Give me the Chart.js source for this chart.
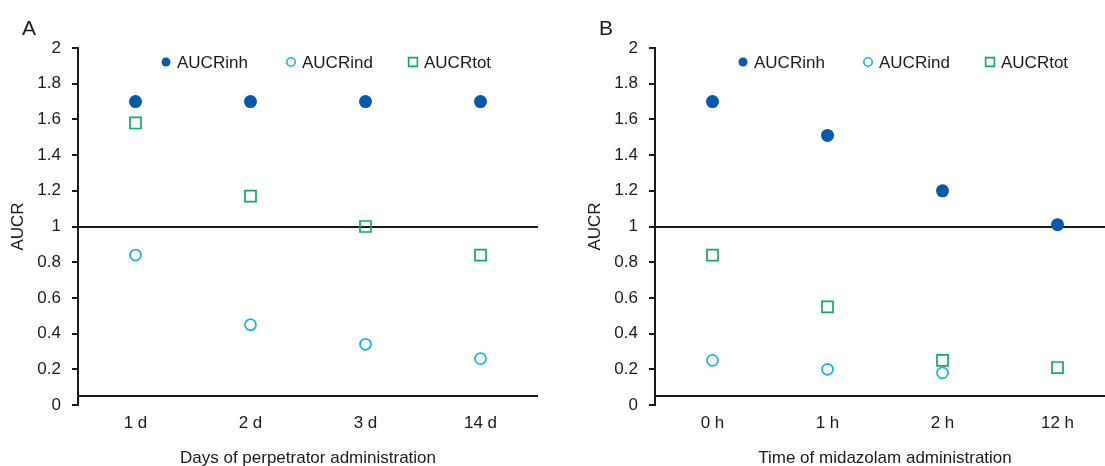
<!DOCTYPE html>
<html>
<head>
<meta charset="utf-8">
<script src="https://cdn.jsdelivr.net/npm/chart.js@4.4.1/dist/chart.umd.min.js"></script>
<style>
  html, body { margin: 0; padding: 0; background: #fff; overflow: hidden; width: 1105px; height: 466px; }
  .panel { position: absolute; top: 0; width: 560px; height: 466px; }
  #wa { left: 0; }
  #wb { left: 577px; }
</style>
</head>
<body>
<div class="panel" id="wa"><canvas id="ca" width="560" height="466"></canvas></div>
<div class="panel" id="wb"><canvas id="cb" width="560" height="466"></canvas></div>
<script>
// ---- data ----
const categoriesA = ['1 d', '2 d', '3 d', '14 d'];
const aucrInhA = [1.70, 1.70, 1.70, 1.70];
const aucrIndA = [0.84, 0.45, 0.34, 0.26];
const aucrTotA = [1.58, 1.17, 1.00, 0.84];

const categoriesB = ['0 h', '1 h', '2 h', '12 h'];
const aucrInhB = [1.70, 1.51, 1.20, 1.01];
const aucrIndB = [0.25, 0.20, 0.18, null];
const aucrTotB = [0.84, 0.55, 0.25, 0.21];

const seriesNames = ['AUCRinh', 'AUCRind', 'AUCRtot'];
const yTickLabels = ['0', '0.2', '0.4', '0.6', '0.8', '1', '1.2', '1.4', '1.6', '1.8', '2'];
const referenceLine = 1;
const baselineValue = 0.05;

// ---- styles ----
const FONT = "'Liberation Sans', Arial, sans-serif";
const TXT = '#1a1a1a';
const C_INH = '#0558AA';
const C_IND = '#1AB0EC';
const C_TOT = '#16A85A';

const overlay = {
  id: 'overlay',
  beforeDatasetsDraw(chart, args, opts) {
    const { ctx, chartArea: a } = chart;
    const y = chart.scales.y;
    ctx.save();
    ctx.strokeStyle = TXT;
    ctx.lineWidth = 2;
    [referenceLine, baselineValue].forEach(v => {
      const py = Math.round(y.getPixelForValue(v));
      ctx.beginPath();
      ctx.moveTo(a.left, py);
      ctx.lineTo(a.right, py);
      ctx.stroke();
    });
    ctx.restore();
  },
  afterDraw(chart, args, opts) {
    const { ctx } = chart;
    ctx.save();
    // panel letter
    ctx.fillStyle = TXT;
    ctx.font = '21px ' + FONT;
    ctx.textBaseline = 'alphabetic';
    ctx.textAlign = 'left';
    ctx.fillText(opts.letter, 22, 35);
    // legend
    const items = [
      { x: 166, style: 'circle', r: 4.5, fill: C_INH, stroke: C_INH },
      { x: 291, style: 'circle', r: 4.2, fill: null, stroke: C_IND },
      { x: 413, style: 'rect', r: 6.2, fill: null, stroke: C_TOT },
    ];
    const ly = 62;
    chart.data.datasets.forEach((ds, i) => {
      const it = items[i];
      ctx.strokeStyle = it.stroke;
      ctx.lineWidth = 1.6;
      ctx.beginPath();
      if (it.style === 'circle') {
        ctx.arc(it.x, ly, it.r, 0, Math.PI * 2);
      } else {
        const s = it.r * Math.SQRT1_2;
        ctx.rect(it.x - s, ly - s, 2 * s, 2 * s);
      }
      if (it.fill) { ctx.fillStyle = it.fill; ctx.fill(); }
      else ctx.stroke();
      ctx.fillStyle = TXT;
      ctx.font = '17px ' + FONT;
      ctx.textBaseline = 'middle';
      ctx.fillText(ds.label, it.x + 11, ly + 1);
    });
    ctx.restore();
  }
};

function makeChart(id, letter, cats, inh, ind, tot, xTitle) {
  return new Chart(document.getElementById(id), {
    type: 'line',
    data: {
      labels: cats,
      datasets: [
        { label: seriesNames[0], data: inh, showLine: false, pointStyle: 'circle', pointRadius: 6.5, pointHoverRadius: 6.5,
          backgroundColor: C_INH, borderColor: C_INH, pointBorderWidth: 0 },
        { label: seriesNames[1], data: ind, showLine: false, pointStyle: 'circle', pointRadius: 5.5, pointHoverRadius: 5.5,
          backgroundColor: 'rgba(0,0,0,0)', borderColor: C_IND, pointBorderWidth: 1.7 },
        { label: seriesNames[2], data: tot, showLine: false, pointStyle: 'rect', pointRadius: 7.8, pointHoverRadius: 7.8,
          backgroundColor: 'rgba(0,0,0,0)', borderColor: C_TOT, pointBorderWidth: 1.7 },
      ]
    },
    options: {
      responsive: false,
      animation: false,
      events: [],
      layout: { padding: { left: 0, right: 22, top: 48, bottom: 0 } },
      plugins: {
        legend: { display: false },
        tooltip: { enabled: false },
        overlay: { letter: letter }
      },
      scales: {
        x: {
          type: 'category',
          offset: true,
          grid: { display: false, drawTicks: false },
          border: { display: false },
          ticks: { color: TXT, font: { family: FONT, size: 17 }, padding: 8, maxRotation: 0, autoSkip: false },
          title: { display: true, text: xTitle, color: TXT, font: { family: FONT, size: 17, lineHeight: 0.85 }, padding: { top: 0, bottom: 0 } },
          afterFit(s) { s.height = 61; }
        },
        y: {
          min: 0, max: 2,
          ticks: {
            stepSize: 0.2, color: TXT, font: { family: FONT, size: 17 }, padding: 11,
            callback: (v, i) => yTickLabels[i]
          },
          grid: { drawOnChartArea: false, drawTicks: true, tickLength: 6, color: TXT, lineWidth: 2 },
          border: { display: true, color: TXT, width: 2 },
          title: { display: true, text: 'AUCR', color: TXT, font: { family: FONT, size: 17, lineHeight: 1.2 }, padding: { top: 8, bottom: 0 } },
          afterFit(s) { s.width = 78; }
        }
      }
    },
    plugins: [overlay]
  });
}

makeChart('ca', 'A', categoriesA, aucrInhA, aucrIndA, aucrTotA, 'Days of perpetrator administration');
makeChart('cb', 'B', categoriesB, aucrInhB, aucrIndB, aucrTotB, 'Time of midazolam administration');
</script>
</body>
</html>
